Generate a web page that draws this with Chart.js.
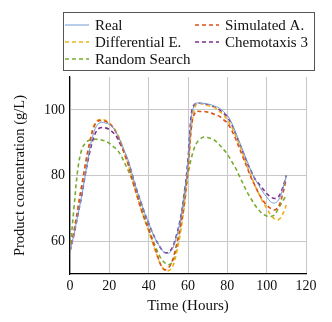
<!DOCTYPE html>
<html><head><meta charset="utf-8">
<script src="https://cdn.jsdelivr.net/npm/chart.js@4/dist/chart.umd.min.js"></script>
<style>html,body{margin:0;padding:0;background:#fff}#w{width:332px;height:322px}</style>
</head><body><div id="w"><canvas id="c" width="332" height="322"></canvas></div>
<script>
const hours = [0,2,4,6,8,10,12,14,16,18,20,22,24,26,28,30,32,34,36,38,40,42,44,46,48,50,52,54,56,58,60,62,64,66,68,70,72,74,76,78,80,82,84,86,88,90,92,94,96,98,100,102,104,106,108,110];
const real      = [57,62,68,74,81,88,93,95.5,96.2,96,95.6,94.5,92.5,90,87,84,79.5,75.5,72,68.5,65.5,62.5,60,58,56.5,56.3,57.5,61,66,73,84,99,102,102,102,101.8,101.5,101,100.5,99.5,98.3,96.3,93.5,90.5,87.5,84.5,81.5,79,77,75,73.5,72,71.6,72.5,75.5,80];
const simulated = [57,63,70,77,84,90,94.5,96.5,96.8,96.5,95.8,94.5,92.5,89.5,86,82.5,78,74,70,66.5,63.5,60,56.5,53,51.3,51.8,54,58.5,64,71,82,96,99.5,99.5,99.5,99.3,99,98.5,98,97,96,94,91.5,88.5,85.5,82.5,79.5,77,74.5,72.5,71,70,69.5,70.5,74,79];
const differential = [57,63,70,77,84,90,95,96.8,97,96.8,96,94.8,92.8,90,86.5,82.5,78,74,70,66.5,63,59.5,56,53,51.3,51,52,56,62,70,81,96,101.5,102,101.7,101.3,101,100.5,99.5,98.5,97,95,92.5,89.5,86.5,83,80,77,74.5,72,70,68,66.8,66.5,68,71];
const chemotaxis = [57,62,68,74,81,87,91.5,94,94.6,94.5,94,93,91.5,89,86.5,83.5,79.5,75.5,72,68.5,65.5,62.5,60,58,56.6,56.6,58,61.5,66.5,73.5,85,100,102,102,101.8,101.5,101.2,100.8,100,99,97.8,95.8,93,90,87,84,81.5,79,77.5,76,74.5,73.5,73,73.5,76,80];
const randomSearch = [57,70,82,88,90,90.8,91,91,90.8,90.5,89.8,88.8,87.8,86,83.5,81,78,74.5,71,67.5,64,60.5,57.5,55,53.5,52.8,53.5,57,63,74.5,80.5,86,89.5,91,91.7,91.6,91.2,90.5,89.3,88,86.5,84.5,82.5,80,77.5,75,73,71,69.5,68.3,67.7,67.5,68,70,72,74];
const seriesNames = ['Real','Simulated A.','Differential E.','Chemotaxis 3','Random Search'];
const xTicks = [0,20,40,60,80,100,120];
const yTicks = [60,80,100];

const serif = "'Liberation Serif', 'DejaVu Serif', serif";
const colors = ['#6f9bd6','#d95319','#edb120','#7e2f8e','#77ac30'];
const values = [real, simulated, differential, chemotaxis, randomSearch];
const datasets = values.map((v,i)=>({
  label: seriesNames[i],
  data: v.map((y,j)=>({x:hours[j], y})),
  borderColor: colors[i],
  backgroundColor: colors[i],
  borderWidth: i===0 ? 1 : 1.6,
  borderDash: i===0 ? [] : [4,3],
  pointRadius: 0,
  tension: 0.35,
  fill: false
}));
const legendPlugin = {
  id: 'boxLegend',
  afterDraw(chart) {
    const ctx = chart.ctx;
    const ds = chart.data.datasets;
    ctx.save();
    ctx.strokeStyle = '#555';
    ctx.lineWidth = 1;
    ctx.strokeRect(63.5, 12.5, 251, 58);
    const pos = [[0,0],[1,0],[0,1],[1,1],[0,2]];
    const colX = [65, 195];
    const rowY = [25, 42, 59];
    ctx.font = "15px " + serif;
    ctx.textBaseline = 'middle';
    ctx.fillStyle = '#111';
    ds.forEach((d,i)=>{
      const [c,r] = pos[i];
      const x = colX[c], y = rowY[r];
      ctx.beginPath();
      ctx.strokeStyle = d.borderColor;
      ctx.lineWidth = d.borderWidth;
      ctx.setLineDash(d.borderDash);
      ctx.moveTo(x, y); ctx.lineTo(x+24, y);
      ctx.stroke();
      ctx.setLineDash([]);
      ctx.fillText(d.label, x+30, y+1);
    });
    ctx.restore();
  }
};
new Chart(document.getElementById('c'), {
  type: 'line',
  data: { datasets },
  plugins: [legendPlugin],
  options: {
    responsive: false,
    animation: false,
    layout: { padding: { left: 0, top: 77, right: 26, bottom: 0 } },
    plugins: { legend: { display: false }, tooltip: { enabled: false } },
    scales: {
      x: {
        type: 'linear', min: 0, max: 120,
        afterBuildTicks(s){ s.ticks = xTicks.map(v=>({value:v})); },
        afterFit(s){ s.height = 48; },
        grid: { color: '#c8c8c8', lineWidth: 1, drawTicks: false },
        border: { color: '#000', width: 1.2 },
        ticks: { color: '#111', font: { family: serif, size: 14 }, padding: 4 },
        title: { display: true, text: 'Time (Hours)', color: '#111', font: { family: serif, size: 15 }, padding: { top: 0, bottom: 7 } }
      },
      y: {
        type: 'linear', min: 50, max: 110,
        afterBuildTicks(s){ s.ticks = yTicks.map(v=>({value:v})); },
        afterFit(s){ s.width = 70; },
        grid: { color: '#c8c8c8', lineWidth: 1, drawTicks: false },
        border: { color: '#000', width: 1.2 },
        ticks: { color: '#111', font: { family: serif, size: 14 }, padding: 5 },
        title: { display: true, text: 'Product concentration (g/L)', color: '#111', font: { family: serif, size: 14.5 }, padding: { top: 11, bottom: 0 } }
      }
    }
  }
});
</script></body></html>
